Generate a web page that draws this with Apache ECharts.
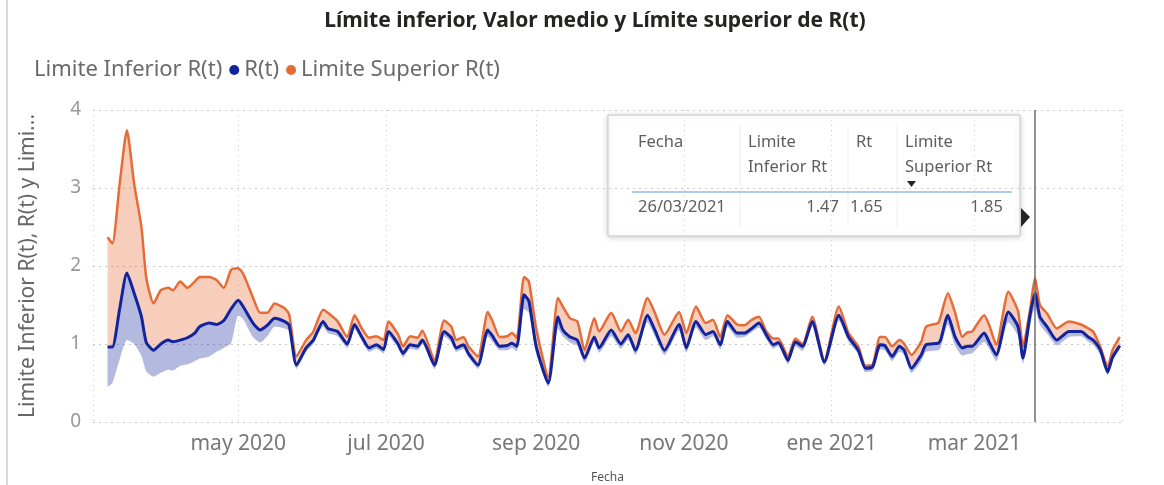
<!DOCTYPE html>
<html><head><meta charset="utf-8">
<script src="https://cdn.jsdelivr.net/npm/echarts@6/dist/echarts.min.js"></script>
<style>html,body{margin:0;padding:0;background:#fff}#c{width:1164px;height:485px}</style>
</head><body><div id="c"></div>
<script>
const dates = ['2020-03-08','2020-03-10','2020-03-13','2020-03-16','2020-03-19','2020-03-22','2020-03-24','2020-03-27','2020-03-30','2020-04-02',
'2020-04-04','2020-04-07','2020-04-10','2020-04-13','2020-04-15','2020-04-19','2020-04-22','2020-04-25','2020-04-28','2020-05-01',
'2020-05-03','2020-05-07','2020-05-10','2020-05-13','2020-05-16','2020-05-20','2020-05-22','2020-05-25','2020-05-29','2020-06-01',
'2020-06-05','2020-06-07','2020-06-11','2020-06-15','2020-06-18','2020-06-21','2020-06-24','2020-06-27','2020-06-30','2020-07-02',
'2020-07-06','2020-07-08','2020-07-11','2020-07-14','2020-07-16','2020-07-21','2020-07-25','2020-07-28','2020-07-30','2020-08-02',
'2020-08-04','2020-08-08','2020-08-12','2020-08-14','2020-08-17','2020-08-20','2020-08-22','2020-08-24','2020-08-27','2020-08-29',
'2020-09-01','2020-09-06','2020-09-10','2020-09-12','2020-09-15','2020-09-18','2020-09-21','2020-09-25','2020-09-27','2020-10-02',
'2020-10-06','2020-10-09','2020-10-12','2020-10-17','2020-10-20','2020-10-24','2020-10-30','2020-11-02','2020-11-06','2020-11-10',
'2020-11-13','2020-11-16','2020-11-19','2020-11-23','2020-11-26','2020-11-29','2020-12-02','2020-12-05','2020-12-08','2020-12-10',
'2020-12-14','2020-12-17','2020-12-20','2020-12-24','2020-12-29','2021-01-04','2021-01-08','2021-01-12','2021-01-15','2021-01-18',
'2021-01-21','2021-01-23','2021-01-26','2021-01-29','2021-01-31','2021-02-03','2021-02-07','2021-02-09','2021-02-14','2021-02-15',
'2021-02-18','2021-02-21','2021-02-24','2021-02-26','2021-02-28','2021-03-05','2021-03-07','2021-03-10','2021-03-15','2021-03-19',
'2021-03-21','2021-03-24','2021-03-26','2021-03-28','2021-03-31','2021-04-04','2021-04-09','2021-04-14','2021-04-17','2021-04-19',
'2021-04-22','2021-04-25','2021-04-27','2021-04-30'];
const upperVals = [2.37,2.29,3.05,3.74,3.05,2.50,1.85,1.52,1.69,1.72,
1.69,1.80,1.72,1.80,1.86,1.86,1.82,1.72,1.95,1.97,
1.90,1.60,1.40,1.40,1.52,1.46,1.38,0.84,1.05,1.16,
1.44,1.40,1.29,1.09,1.37,1.20,1.08,1.10,1.05,1.29,
1.12,0.97,1.10,1.08,1.17,0.79,1.30,1.22,1.05,1.09,
0.97,0.84,1.41,1.29,1.09,1.10,1.14,1.08,1.86,1.80,
1.20,0.58,1.59,1.48,1.33,1.29,0.92,1.33,1.16,1.40,
1.16,1.31,1.14,1.59,1.40,1.12,1.41,1.14,1.48,1.27,
1.31,1.09,1.37,1.25,1.24,1.31,1.35,1.16,1.07,1.07,
0.84,1.07,1.00,1.35,0.79,1.48,1.14,0.97,0.72,0.74,
1.09,1.09,0.97,1.05,1.00,0.86,1.03,1.22,1.27,1.35,
1.65,1.40,1.09,1.15,1.16,1.37,1.25,0.99,1.67,1.42,
0.97,1.45,1.85,1.50,1.39,1.20,1.29,1.25,1.20,1.16,
0.96,0.71,0.92,1.09];
const rtVals = [0.96,0.96,1.45,1.91,1.65,1.35,1.02,0.92,1.00,1.05,
1.03,1.05,1.08,1.14,1.22,1.27,1.25,1.30,1.45,1.56,
1.48,1.27,1.18,1.24,1.33,1.29,1.24,0.73,0.95,1.05,
1.29,1.20,1.16,1.00,1.25,1.09,0.95,0.99,0.93,1.16,
1.00,0.88,0.99,0.97,1.05,0.73,1.16,1.08,0.95,0.99,
0.88,0.73,1.18,1.10,0.97,0.98,1.01,0.97,1.63,1.55,
0.97,0.50,1.35,1.18,1.09,1.05,0.82,1.09,0.95,1.18,
1.00,1.12,0.92,1.37,1.18,0.92,1.25,0.95,1.29,1.12,
1.16,0.99,1.29,1.14,1.14,1.20,1.27,1.12,0.99,1.02,
0.79,1.03,0.97,1.29,0.77,1.37,1.09,0.92,0.69,0.71,
0.99,0.98,0.84,0.97,0.92,0.69,0.86,0.99,1.01,1.05,
1.37,1.09,0.95,0.97,0.97,1.14,1.03,0.86,1.41,1.22,
0.82,1.38,1.65,1.35,1.22,1.05,1.16,1.16,1.09,1.05,
0.92,0.64,0.83,0.98];
const lowerVals = [0.45,0.50,0.80,1.05,1.00,0.85,0.65,0.58,0.63,0.67,
0.66,0.72,0.74,0.78,0.81,0.84,0.90,0.95,1.01,1.37,
1.32,1.09,1.02,1.10,1.22,1.20,1.17,0.68,0.90,1.00,
1.22,1.14,1.10,0.95,1.19,1.04,0.90,0.94,0.88,1.10,
0.95,0.83,0.94,0.92,1.00,0.68,1.10,1.02,0.90,0.94,
0.83,0.68,1.10,1.03,0.92,0.92,0.95,0.91,1.45,1.40,
0.88,0.45,1.20,1.10,1.02,0.98,0.76,1.02,0.89,1.10,
0.94,1.05,0.86,1.28,1.10,0.86,1.17,0.89,1.21,1.05,
1.10,0.93,1.22,1.08,1.09,1.15,1.21,1.06,0.94,0.97,
0.74,0.97,0.91,1.22,0.72,1.30,1.03,0.87,0.64,0.66,
0.93,0.92,0.78,0.90,0.86,0.63,0.78,0.90,0.92,0.95,
1.25,0.98,0.85,0.87,0.88,1.03,0.94,0.78,1.28,1.10,
0.75,1.25,1.47,1.25,1.13,0.98,1.09,1.10,1.03,0.99,
0.86,0.60,0.78,0.93];
const monthNames = ['ene','feb','mar','abr','may','jun','jul','ago','sep','oct','nov','dic'];
const axisMin = '2020-03-02';
const axisMax = '2021-04-30 22:00:00';
const tooltipDate = '2021-03-26';

const FONT = '"Noto Sans", "Open Sans", sans-serif';
const BLUE = '#12239E', ORANGE = '#E66C37';

const pair = (arr) => dates.map((d, i) => [d, arr[i]]);
const bandLow = dates.map((d, i) => [d, +(rtVals[i] - lowerVals[i]).toFixed(3)]);
const bandUp = dates.map((d, i) => [d, +(upperVals[i] - rtVals[i]).toFixed(3)]);
const ti = dates.indexOf(tooltipDate);
const dp = tooltipDate.split('-');
const tipDateText = dp[2] + '/' + dp[1] + '/' + dp[0];

const chart = echarts.init(document.getElementById('c'));
const txt = (x, y, text, extra) => Object.assign({type:'text', x, y, style:Object.assign({text, fill:'#605e5c', font:'16.5px ' + FONT, textVerticalAlign:'middle'}, extra || {})});

const option = {
  animation: false,
  backgroundColor: '#fff',
  title: {
    text: 'Límite inferior, Valor medio y Límite superior de R(t)',
    left: 590, top: 6, textAlign: 'center',
    textStyle: {fontFamily: FONT, fontSize: 21, fontWeight: 'bold', color: '#252423'}
  },
  legend: {
    left: 14, top: 54, icon: 'circle', itemWidth: 10, itemHeight: 10, itemGap: 7, itemTextGap: 5,
    textStyle: {fontFamily: FONT, fontSize: 22, color: '#6a6a6a'},
    data: ['Limite Inferior R(t)', 'R(t)', 'Limite Superior R(t)']
  },
  grid: {left: 93, right: 42, top: 110, bottom: 63, outerBoundsMode: 'none', containLabel: false},
  xAxis: {
    type: 'time', min: axisMin, max: axisMax, splitNumber: 7,
    name: 'Fecha', nameLocation: 'middle', nameGap: 50,
    nameTextStyle: {fontFamily: FONT, fontSize: 12, color: '#555'},
    axisLine: {show: false}, axisTick: {show: false},
    axisLabel: {
      fontFamily: FONT, fontSize: 21, color: '#777', margin: 12, hideOverlap: false,
      formatter: (v) => { const d = new Date(v); return monthNames[d.getMonth()] + ' ' + d.getFullYear(); }
    },
    splitLine: {show: true, lineStyle: {color: '#cfcfcf', type: [1, 4], width: 1}}
  },
  yAxis: {
    type: 'value', min: 0, max: 4, interval: 1,
    name: 'Limite Inferior R(t), R(t) y Limi...', nameLocation: 'middle', nameGap: 54,
    nameTextStyle: {fontFamily: FONT, fontSize: 21, color: '#666'},
    axisLine: {show: false}, axisTick: {show: false},
    axisLabel: {fontFamily: FONT, fontSize: 19, color: '#999', margin: 12},
    splitLine: {lineStyle: {color: '#c8c8c8', type: [2, 4], width: 1}}
  },
  series: [
    {name: 'Limite Inferior R(t)', type: 'line', stack: 'band', data: pair(lowerVals), symbol: 'none', smooth: 0.2,
     itemStyle: {color: 'rgba(0,0,0,0)'}, lineStyle: {opacity: 0}, silent: true},
    {name: 'bandLow', type: 'line', stack: 'band', data: bandLow, symbol: 'none', smooth: 0.2,
     lineStyle: {opacity: 0}, areaStyle: {color: 'rgba(18,35,158,0.45)'}, silent: true},
    {name: 'bandUp', type: 'line', stack: 'band', data: bandUp, symbol: 'none', smooth: 0.2,
     lineStyle: {opacity: 0}, areaStyle: {color: 'rgba(230,108,55,0.48)'}, silent: true},
    {name: 'Limite Superior R(t)', type: 'line', data: pair(upperVals), symbol: 'none', smooth: 0.2,
     itemStyle: {color: ORANGE}, lineStyle: {color: ORANGE, width: 2.5}},
    {name: 'R(t)', type: 'line', data: pair(rtVals), symbol: 'none', smooth: 0.2,
     itemStyle: {color: BLUE}, lineStyle: {color: BLUE, width: 3},
     markLine: {symbol: 'none', silent: true, label: {show: false},
       lineStyle: {color: '#6e6e6e', width: 1.5, type: 'solid'}, data: [{xAxis: tooltipDate}]}}
  ],
  graphic: [
    {type: 'rect', shape: {x: 6, y: 0, width: 2, height: 485}, style: {fill: '#d9d9d9'}, silent: true},
    {type: 'group', x: 608, y: 115, children: [
      {type: 'rect', shape: {x: 0, y: 0, width: 412, height: 121},
       style: {fill: '#fff', stroke: '#c6c6c6', lineWidth: 1, shadowBlur: 6, shadowColor: 'rgba(0,0,0,0.18)', shadowOffsetY: 1}},
      {type: 'line', shape: {x1: 132, y1: 10, x2: 132, y2: 112}, style: {stroke: '#efefef', lineWidth: 1}},
      {type: 'line', shape: {x1: 240, y1: 10, x2: 240, y2: 112}, style: {stroke: '#efefef', lineWidth: 1}},
      {type: 'line', shape: {x1: 289, y1: 10, x2: 289, y2: 112}, style: {stroke: '#efefef', lineWidth: 1}},
      {type: 'line', shape: {x1: 24, y1: 77, x2: 404, y2: 77}, style: {stroke: '#a9cdea', lineWidth: 2}},
      txt(30, 27, 'Fecha'),
      txt(140, 27, 'Limite'),
      txt(140, 52, 'Inferior Rt'),
      txt(248, 27, 'Rt'),
      txt(297, 27, 'Limite'),
      txt(297, 52, 'Superior Rt'),
      {type: 'polygon', shape: {points: [[299, 66], [308, 66], [303.5, 72]]}, style: {fill: '#252423'}},
      txt(30, 92, tipDateText),
      txt(231, 92, lowerVals[ti].toFixed(2), {textAlign: 'right'}),
      txt(242, 92, rtVals[ti].toFixed(2)),
      txt(395, 92, upperVals[ti].toFixed(2), {textAlign: 'right'}),
      {type: 'polygon', shape: {points: [[413, 93], [422, 102], [413, 112]]}, style: {fill: '#252423'}}
    ]}
  ]
};
chart.setOption(option);
</script></body></html>
